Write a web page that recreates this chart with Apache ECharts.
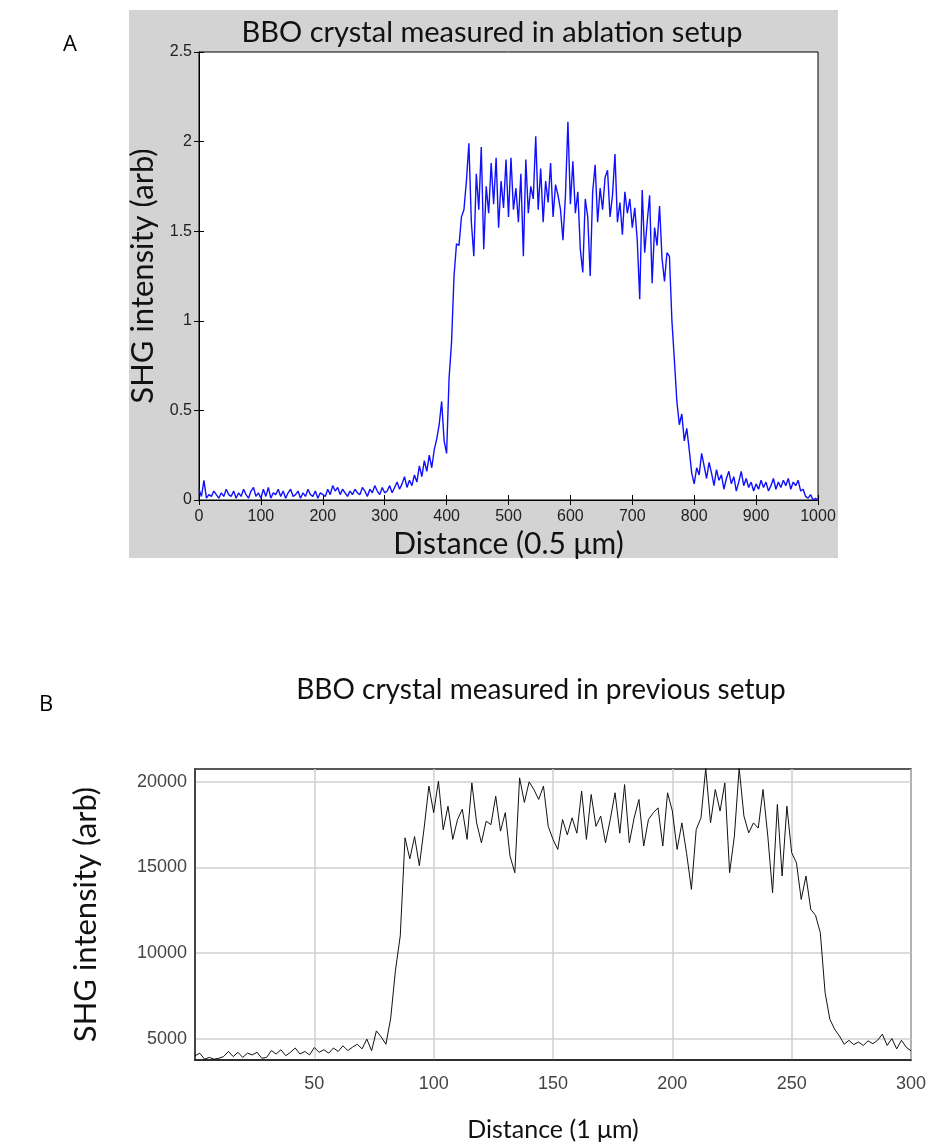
<!DOCTYPE html>
<html><head><meta charset="utf-8">
<script src="https://cdn.jsdelivr.net/npm/echarts@6/dist/echarts.min.js"></script>
<style>html,body{margin:0;padding:0;background:#fff}#c{width:930px;height:1147px}</style>
</head><body><div id="c"></div>
<script>
// Panel A: distance in 0.5 µm steps, sampled every 4 units
const xStartA = 0, xStepA = 4;
const intensityA = [
0.06,0.02,0.11,0.01,0.03,0.02,0.05,0.03,0.01,0.04,0.02,0.06,0.03,0.02,0.05,0.01,0.04,0.02,0.06,0.03,0.01,0.05,0.07,0.02,0.04,0.01,
0.06,0.02,0.07,0.01,0.04,0.03,0.06,0.02,0.05,0.01,0.04,0.06,0.02,0.03,0.05,0.01,0.04,0.02,0.06,0.03,0.02,0.05,0.01,0.04,0.03,
0.02,0.06,0.03,0.08,0.05,0.07,0.03,0.06,0.04,0.02,0.05,0.03,0.06,0.04,0.03,0.07,0.05,0.02,0.06,0.04,0.08,0.05,0.03,0.07,0.04,
0.05,0.08,0.04,0.07,0.10,0.06,0.09,0.13,0.07,0.11,0.08,0.14,0.10,0.19,0.13,0.22,0.16,0.25,0.18,0.28,0.34,0.42,0.55,0.33,0.26,
0.68,0.88,1.25,1.43,1.42,1.58,1.62,1.78,1.99,1.55,1.36,1.82,1.62,1.97,1.40,1.75,1.60,1.88,1.65,1.91,1.52,1.78,1.63,1.90,1.58,
1.91,1.62,1.74,1.55,1.82,1.36,1.90,1.60,1.75,1.68,2.03,1.62,1.85,1.55,1.78,1.66,1.88,1.58,1.76,1.70,1.62,1.45,1.70,2.11,1.65,
1.89,1.60,1.72,1.40,1.27,1.68,1.58,1.25,1.72,1.87,1.55,1.74,1.62,1.80,1.84,1.58,1.70,1.93,1.55,1.66,1.48,1.72,1.60,1.68,1.52,
1.63,1.45,1.12,1.73,1.38,1.55,1.70,1.21,1.52,1.42,1.64,1.35,1.22,1.38,1.36,1.00,0.78,0.55,0.42,0.48,0.33,0.40,0.28,0.15,0.09,
0.18,0.14,0.26,0.19,0.12,0.21,0.15,0.08,0.17,0.11,0.14,0.06,0.12,0.16,0.09,0.13,0.05,0.10,0.16,0.08,0.12,0.07,0.10,0.05,0.09,
0.06,0.11,0.07,0.10,0.05,0.08,0.12,0.06,0.10,0.07,0.11,0.08,0.12,0.06,0.10,0.08,0.11,0.05,0.06,0.02,0.01,0.03,0.00,0.01,0.00
];
// Panel B: distance in 1 µm steps, sampled every 2 units
const xStartB = 0, xStepB = 2;
const intensityB = [
4000,4150,3800,3900,3800,3850,
3950,4250,3950,4200,3900,4150,4050,4200,3850,3900,
4300,4100,4350,4000,4200,4450,4100,4250,4050,4480,
4200,4350,4150,4450,4250,4580,4300,4500,4670,4400,
4970,4290,5450,5100,4670,6200,9000,11000,16730,15500,
16800,15100,17300,19750,18200,20040,17200,18580,16640,17800,
18400,16640,19940,17600,16440,17700,17500,19160,17120,18200,
15660,14690,20230,18800,20000,19550,18970,19750,17400,16640,
16050,17800,16900,17900,17000,19460,16640,19260,17400,18000,
16440,17800,19360,17000,19840,16440,17900,18970,16250,17800,
18190,18480,16250,19360,18300,16050,17600,15800,13720,17210,
17900,20800,17600,19550,18300,19940,14690,16830,20800,18000,
17020,17600,17300,19550,16830,13520,18680,14500,18580,15860,
15270,13130,14500,12550,12200,11190,7690,6130,5550,5160,
4670,4900,4650,4800,4600,4870,4700,4900,5260,4600,
5000,4400,4900,4500,4280
];
const yTicksB = [5000, 10000, 15000, 20000];

const titleA = 'BBO crystal measured in ablation setup';
const titleB = 'BBO crystal measured in previous setup';

const dataA = intensityA.map((v, i) => [xStartA + i * xStepA, v]);
const dataB = intensityB.map((v, i) => [xStartB + i * xStepB, v]);

const chart = echarts.init(document.getElementById('c'), null, {renderer: 'canvas'});
const tickFont = 'Liberation Sans';
const textFont = 'Lato';
const plain = v => String(v);
const insideTick = {show: true, inside: true, length: 5, lineStyle: {color: '#000', width: 1}};

chart.setOption({
  animation: false,
  backgroundColor: '#fff',
  graphic: [
    {type: 'rect', z: -10, shape: {x: 129, y: 10, width: 709, height: 548}, style: {fill: '#d3d3d3'}},
    {type: 'text', style: {text: 'A', x: 70, y: 45, fill: '#000', font: '22px "Open Sans"', textAlign: 'center', textVerticalAlign: 'middle'}},
    {type: 'text', style: {text: 'B', x: 46, y: 705, fill: '#000', font: '22px "Open Sans"', textAlign: 'center', textVerticalAlign: 'middle'}},
    {type: 'text', style: {text: titleA, x: 492, y: 33, fill: '#111', font: '29px ' + textFont, textAlign: 'center', textVerticalAlign: 'middle'}},
    {type: 'text', style: {text: titleB, x: 541, y: 690, fill: '#111', font: '28px ' + textFont, textAlign: 'center', textVerticalAlign: 'middle'}}
  ],
  grid: [
    {left: 199, top: 52, width: 619, height: 448, show: true, backgroundColor: '#fff', borderColor: '#000', borderWidth: 1},
    {left: 195, top: 769, width: 716, height: 291, show: true, backgroundColor: '#fff', borderColor: '#222', borderWidth: 1.5}
  ],
  xAxis: [
    {gridIndex: 0, type: 'value', min: 0, max: 1000, interval: 100, position: 'bottom',
     axisLine: {lineStyle: {color: '#000'}}, axisTick: insideTick, splitLine: {show: false},
     axisLabel: {color: '#222', fontFamily: tickFont, fontSize: 16, margin: 9, formatter: plain},
     name: 'Distance (0.5 μm)', nameLocation: 'middle', nameGap: 29,
     nameTextStyle: {color: '#111', fontFamily: textFont, fontSize: 30}},
    {gridIndex: 0, type: 'value', min: 0, max: 1000, interval: 100, position: 'top',
     axisLine: {lineStyle: {color: '#000'}}, axisTick: insideTick, axisLabel: {show: false}, splitLine: {show: false}},
    {gridIndex: 1, type: 'value', min: 0, max: 300, interval: 50, position: 'bottom',
     axisLine: {lineStyle: {color: '#222', width: 1.5}}, axisTick: {show: false},
     splitLine: {show: true, lineStyle: {color: '#cfcfcf', width: 1.5}},
     axisLabel: {color: '#444', fontFamily: tickFont, fontSize: 18, margin: 15, showMinLabel: false, formatter: plain},
     name: 'Distance (1 μm)', nameLocation: 'middle', nameGap: 57,
     nameTextStyle: {color: '#111', fontFamily: textFont, fontSize: 25}}
  ],
  yAxis: [
    {gridIndex: 0, type: 'value', min: 0, max: 2.5, interval: 0.5, position: 'left',
     axisLine: {lineStyle: {color: '#000'}}, axisTick: insideTick, splitLine: {show: false},
     axisLabel: {color: '#222', fontFamily: tickFont, fontSize: 16, margin: 7, formatter: plain},
     name: 'SHG intensity (arb)', nameLocation: 'middle', nameGap: 35,
     nameTextStyle: {color: '#111', fontFamily: textFont, fontSize: 31}},
    {gridIndex: 0, type: 'value', min: 0, max: 2.5, interval: 0.5, position: 'right',
     axisLine: {lineStyle: {color: '#000'}}, axisTick: insideTick, axisLabel: {show: false}, splitLine: {show: false}},
    {gridIndex: 1, type: 'value', min: 3750, max: 20750, position: 'left',
     axisLine: {lineStyle: {color: '#222', width: 1.5}},
     axisTick: {show: false, customValues: yTicksB},
     splitLine: {show: true, lineStyle: {color: '#cfcfcf', width: 1.5}},
     axisLabel: {color: '#444', fontFamily: tickFont, fontSize: 18, margin: 8, customValues: yTicksB, formatter: plain},
     name: 'SHG intensity (arb)', nameLocation: 'middle', nameGap: 94,
     nameTextStyle: {color: '#111', fontFamily: textFont, fontSize: 31}}
  ],
  series: [
    {type: 'line', xAxisIndex: 0, yAxisIndex: 0, data: dataA, showSymbol: false, symbol: 'none',
     lineStyle: {color: '#1010ff', width: 1.4}, clip: true},
    {type: 'line', xAxisIndex: 2, yAxisIndex: 2, data: dataB, showSymbol: false, symbol: 'none',
     lineStyle: {color: '#111', width: 1}, clip: true}
  ]
});
</script></body></html>
